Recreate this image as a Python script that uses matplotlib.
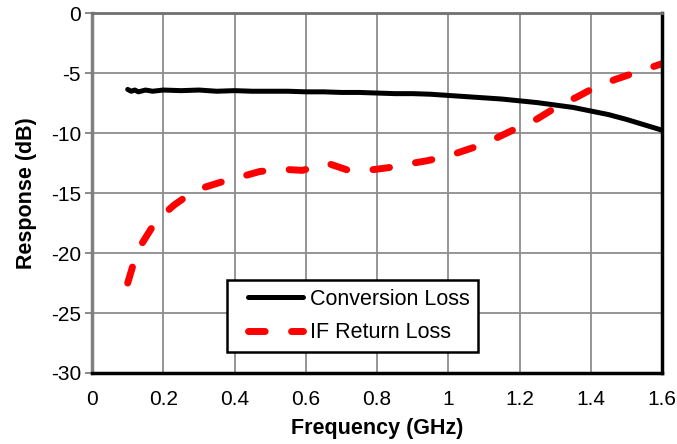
import matplotlib.pyplot as plt
from matplotlib.legend_handler import HandlerLine2D

plt.rcParams['font.family'] = ['Liberation Sans', 'DejaVu Sans']
plt.rcParams['axes.unicode_minus'] = False

# Conversion loss (black solid)
conv_freq = [0.10, 0.11, 0.12, 0.13, 0.15, 0.17, 0.20, 0.25, 0.30, 0.35, 0.40, 0.45,
             0.50, 0.55, 0.60, 0.65, 0.70, 0.75, 0.80, 0.85, 0.90, 0.95, 1.00,
             1.05, 1.10, 1.15, 1.20, 1.25, 1.30, 1.35, 1.40, 1.45, 1.50, 1.55, 1.60]
conv_loss = [-6.35, -6.5, -6.4, -6.55, -6.4, -6.5, -6.4, -6.45, -6.4, -6.5, -6.45, -6.5,
             -6.5, -6.5, -6.55, -6.55, -6.6, -6.6, -6.65, -6.7, -6.7, -6.75, -6.85,
             -6.95, -7.05, -7.15, -7.3, -7.45, -7.65, -7.85, -8.15, -8.45, -8.85, -9.3, -9.75]

# IF return loss (red dashed)
if_freq = [0.10, 0.115, 0.14, 0.18, 0.23, 0.29, 0.36, 0.41, 0.47, 0.53, 0.59, 0.63,
           0.66, 0.72, 0.77, 0.80, 0.85, 0.90, 0.94, 1.00, 1.05, 1.10, 1.17, 1.25,
           1.31, 1.36, 1.41, 1.47, 1.53, 1.60]
if_loss = [-22.5, -21.0, -19.2, -17.3, -16.0, -14.75, -14.1, -13.7, -13.2, -13.0, -13.1, -12.8,
           -12.5, -13.1, -13.1, -13.0, -12.8, -12.5, -12.3, -11.9, -11.4, -10.9, -9.9, -8.8,
           -7.7, -7.0, -6.2, -5.5, -4.9, -4.2]

fig = plt.figure(figsize=(6.77, 4.44), dpi=100)
ax = fig.add_axes([0.136, 0.16, 0.842, 0.81])

l1, = ax.plot(conv_freq, conv_loss, color='black', lw=3.6, label='Conversion Loss',
              solid_capstyle='round')
l2, = ax.plot(if_freq, if_loss, color='#ff0000', lw=5, dashes=(2.4, 3.8),
              label='IF Return Loss', dash_capstyle='round')

ax.set_xlim(0, 1.6)
ax.set_ylim(-30, 0)
ax.set_xticks([0, 0.2, 0.4, 0.6, 0.8, 1.0, 1.2, 1.4, 1.6])
ax.set_xticklabels(['0', '0.2', '0.4', '0.6', '0.8', '1', '1.2', '1.4', '1.6'])
ax.set_yticks(range(-30, 1, 5))
ax.grid(True, color='#8c8c8c', lw=1.3)
ax.set_axisbelow(True)

ax.tick_params(axis='x', length=0, pad=12, labelsize=15)
ax.tick_params(axis='y', length=5, color='#808080', width=1.3, labelsize=15, pad=3)

ax.spines['left'].set_color('#808080')
ax.spines['left'].set_linewidth(2.5)
ax.spines['top'].set_color('#707070')
ax.spines['top'].set_linewidth(2)
ax.spines['bottom'].set_color('black')
ax.spines['bottom'].set_linewidth(2.5)
ax.spines['right'].set_color('black')
ax.spines['right'].set_linewidth(2.5)

ax.set_xlabel('Frequency (GHz)', fontsize=15.5, fontweight='bold', labelpad=7)
ax.set_ylabel('Response (dB)', fontsize=15.5, fontweight='bold', labelpad=10)

hmap = {l1: HandlerLine2D(xpad=0.55), l2: HandlerLine2D(xpad=0.55)}
leg = ax.legend(loc='lower left', bbox_to_anchor=(0.237, 0.058), fontsize=15.5,
                frameon=True, fancybox=False, edgecolor='black', framealpha=1,
                handlelength=3.1, borderpad=0.4, labelspacing=0.6, handletextpad=0.35,
                borderaxespad=0, handler_map=hmap)
leg.get_frame().set_linewidth(1.8)

fig.savefig('out.png', dpi=100)
